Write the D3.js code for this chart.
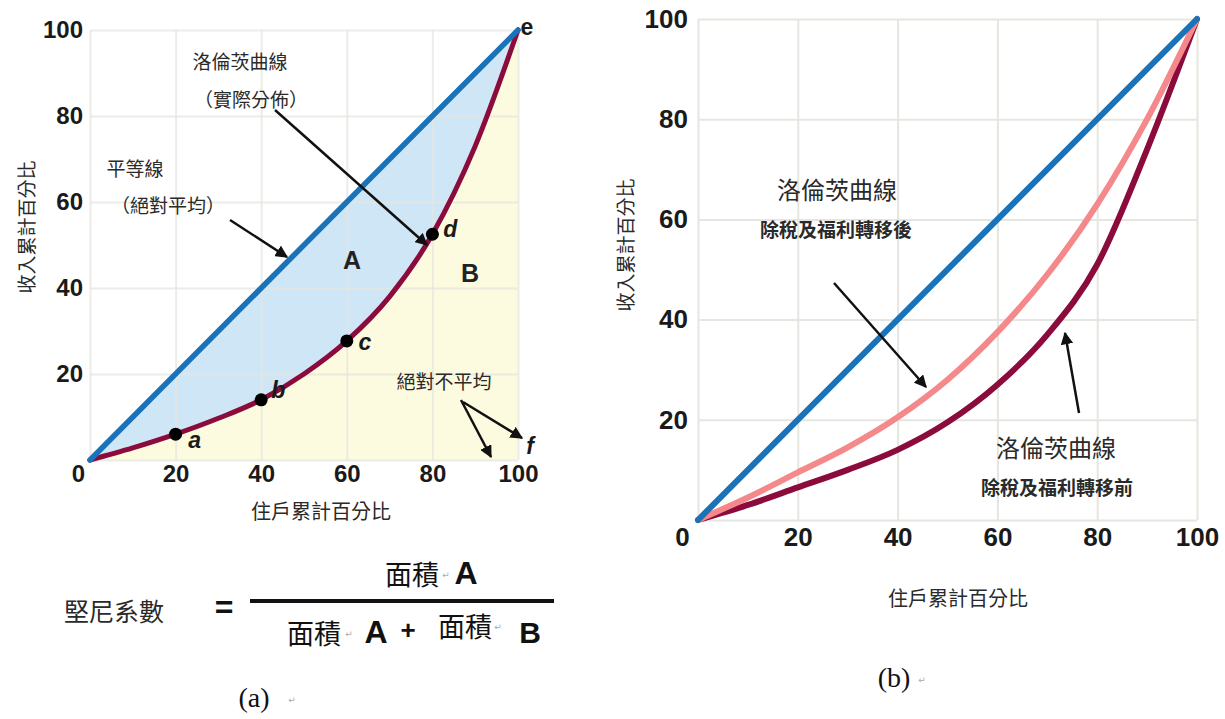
<!DOCTYPE html>
<html>
<head>
<meta charset="utf-8">
<script src="https://cdn.jsdelivr.net/npm/d3@7"></script>
<style>
  body { margin: 0; background: #fff; }
  .tick text { font-family: "Liberation Sans", Arial, sans-serif; font-weight: bold; fill: #1a1a1a; }
  .cjk { font-family: "Noto Sans CJK TC", "Noto Sans CJK SC", sans-serif; fill: #333; }
</style>
</head>
<body>
<div id="chart"></div>
<script>
// ---- data ----
const tickValues = [0, 20, 40, 60, 80, 100];

// panel (a): Lorenz curve + labelled points
const lorenzX = [0, 10, 20, 30, 40, 50, 60, 70, 80, 90, 100];
const lorenzY = [0, 2.8, 6, 9.7, 14, 20, 27.7, 38, 52.5, 73, 100];
const equalityLine = [0, 100];
const pointNames = ["a", "b", "c", "d"];
const pointX = [20, 40, 60, 80];
const pointY = [6, 14, 27.7, 52.5];

// panel (b): before and after tax / transfers
const beforeTaxY = [0, 3, 6.5, 10, 14, 19.5, 27, 37, 51, 74, 100];
const afterTaxY = [0, 4.5, 9.5, 14.5, 20.5, 28, 37.5, 49, 63, 80, 100];

const BLUE = "#1a72b8", RED = "#8a0b3c", PINK = "#f4888a", GRID = "#e6e6e0";
const SANS = "'Liberation Sans', Arial, sans-serif";
const SERIF = "'Liberation Serif', 'DejaVu Serif', serif";

const svg = d3.select("#chart").append("svg")
  .attr("width", 1225).attr("height", 719);

svg.append("defs").append("marker")
  .attr("id", "arrow")
  .attr("viewBox", "0 0 10 10")
  .attr("refX", 9).attr("refY", 5)
  .attr("markerWidth", 5).attr("markerHeight", 5)
  .attr("orient", "auto")
  .append("path").attr("d", "M0,0 L10,5 L0,10 z").attr("fill", "#111");

function arrow(x1, y1, x2, y2) {
  svg.append("line")
    .attr("x1", x1).attr("y1", y1).attr("x2", x2).attr("y2", y2)
    .attr("stroke", "#111").attr("stroke-width", 2.5)
    .attr("marker-end", "url(#arrow)");
}

function label(x, y, txt, size, opts = {}) {
  return svg.append("text")
    .attr("class", opts.family ? null : "cjk")
    .attr("x", x).attr("y", y)
    .attr("text-anchor", "middle")
    .attr("dominant-baseline", "central")
    .attr("font-size", size)
    .attr("font-weight", opts.weight || "normal")
    .attr("font-style", opts.style || "normal")
    .style("font-family", opts.family || null)
    .style("fill", opts.fill || "#2a2a2a")
    .attr("transform", opts.rotate ? `rotate(-90,${x},${y})` : null)
    .text(txt);
}

function grid(g, x, y) {
  const [x0, x1] = x.range(), [y0, y1] = y.range();
  g.append("g").attr("transform", `translate(0,${y0})`)
    .call(d3.axisBottom(x).tickValues(tickValues).tickSize(y1 - y0).tickFormat(""))
    .call(s => s.select(".domain").remove())
    .call(s => s.selectAll("line").attr("stroke", GRID).attr("stroke-width", 2));
  g.append("g").attr("transform", `translate(${x0},0)`)
    .call(d3.axisLeft(y).tickValues(tickValues).tickSize(x0 - x1).tickFormat(""))
    .call(s => s.select(".domain").remove())
    .call(s => s.selectAll("line").attr("stroke", GRID).attr("stroke-width", 2));
}

function tickLabels(g, x, y, size, padX, padY, zeroDx) {
  const [x0] = x.range(), [y0] = y.range();
  g.append("g").attr("transform", `translate(0,${y0})`)
    .call(d3.axisBottom(x).tickValues(tickValues).tickSize(0).tickPadding(padY))
    .call(s => s.select(".domain").remove())
    .call(s => s.selectAll("text").attr("font-size", size)
      .attr("dx", d => d === 0 ? zeroDx : 0));
  g.append("g").attr("transform", `translate(${x0},0)`)
    .call(d3.axisLeft(y).tickValues(tickValues.slice(1)).tickSize(0).tickPadding(padX))
    .call(s => s.select(".domain").remove())
    .call(s => s.selectAll("text").attr("font-size", size));
}

// ================= panel (a) =================
const xL = d3.scaleLinear().domain([0, 100]).range([90, 518]);
const yL = d3.scaleLinear().domain([0, 100]).range([460, 30]);
const gL = svg.append("g");
const lorenz = lorenzX.map((x, i) => ({ x, y: lorenzY[i] }));

gL.append("path").datum(lorenz)
  .attr("fill", "#fdfbdf")
  .attr("d", d3.area().x(d => xL(d.x)).y0(yL(0)).y1(d => yL(d.y)).curve(d3.curveMonotoneX));
gL.append("path").datum(lorenz)
  .attr("fill", "#cfe6f7")
  .attr("d", d3.area().x(d => xL(d.x)).y0(d => yL(d.x)).y1(d => yL(d.y)).curve(d3.curveMonotoneX));

grid(gL, xL, yL);
gL.selectAll(".tick line").attr("stroke-opacity", 0.75);

gL.append("path").datum(lorenz)
  .attr("fill", "none").attr("stroke", RED).attr("stroke-width", 5)
  .attr("stroke-linecap", "round")
  .attr("d", d3.line().x(d => xL(d.x)).y(d => yL(d.y)).curve(d3.curveMonotoneX));
gL.append("path").datum(equalityLine)
  .attr("fill", "none").attr("stroke", BLUE).attr("stroke-width", 5.5)
  .attr("stroke-linecap", "round")
  .attr("d", d3.line().x(d => xL(d)).y(d => yL(d)));

gL.selectAll("circle").data(pointX).join("circle")
  .attr("cx", d => xL(d)).attr("cy", (d, i) => yL(pointY[i]))
  .attr("r", 6.5).attr("fill", "#000");

tickLabels(gL, xL, yL, 24, 7, 5, -12);

const lblOff = [[19, 6], [17, -10], [18, 1], [18, -5]];
pointNames.forEach((n, i) => {
  label(xL(pointX[i]) + lblOff[i][0], yL(pointY[i]) + lblOff[i][1], n, 23,
    { family: SANS, weight: "bold", style: "italic", fill: "#1a1a1a" });
});
label(527, 27, "e", 23, { family: SANS, weight: "bold", fill: "#1a1a1a" });
label(530, 446, "f", 23, { family: SANS, weight: "bold", style: "italic", fill: "#1a1a1a" });

label(352, 260, "A", 25, { family: SANS, weight: "bold", fill: "#222" });
label(470, 273, "B", 25, { family: SANS, weight: "bold", fill: "#222" });

label(240, 60, "洛倫茨曲線", 19);
label(251, 98, "（實際分佈）", 19);
arrow(275, 110, 427, 245);
label(135, 167, "平等線", 19);
label(168, 204, "（絕對平均）", 19);
arrow(230, 220, 287, 257);
label(444, 380, "絕對不平均", 19);
arrow(461, 400, 491, 457);
arrow(463, 402, 522, 438);

label(25, 227, "收入累計百分比", 19, { rotate: true });
label(321, 510, "住戶累計百分比", 20);

// Gini formula
label(114, 610, "堅尼系數", 25);
label(224, 607, "=", 32, { family: SANS, weight: "bold", fill: "#111" });
svg.append("line").attr("x1", 250).attr("x2", 554).attr("y1", 601).attr("y2", 601)
  .attr("stroke", "#111").attr("stroke-width", 4);
const mark = (x, y) => label(x, y, "↵", 9, { family: "'DejaVu Sans'", fill: "#aaa" });
label(412, 573, "面積", 27, { fill: "#111" });
mark(446, 575);
label(466, 573, "A", 32, { family: SANS, weight: "bold", fill: "#111" });
label(314, 632, "面積", 27, { fill: "#111" });
mark(349, 634);
label(376, 632, "A", 32, { family: SANS, weight: "bold", fill: "#111" });
label(408, 630, "+", 26, { family: SANS, weight: "bold", fill: "#111" });
label(465, 625, "面積", 27, { fill: "#111" });
mark(498, 627);
label(530, 632, "B", 30, { family: SANS, weight: "bold", fill: "#111" });

label(254, 697, "(a)", 28, { family: SERIF, fill: "#111" });
mark(292, 700);

// ================= panel (b) =================
const xR = d3.scaleLinear().domain([0, 100]).range([698, 1197]);
const yR = d3.scaleLinear().domain([0, 100]).range([520, 19]);
const gR = svg.append("g");
grid(gR, xR, yR);

const lineR = d3.line().x(d => xR(d.x)).y(d => yR(d.y)).curve(d3.curveMonotoneX);
const series = [
  { vals: beforeTaxY, color: RED },
  { vals: afterTaxY, color: PINK }
];
series.forEach(s => {
  gR.append("path").datum(lorenzX.map((x, i) => ({ x, y: s.vals[i] })))
    .attr("fill", "none").attr("stroke", s.color).attr("stroke-width", 6)
    .attr("stroke-linecap", "round")
    .attr("d", lineR);
});
gR.append("path").datum(equalityLine)
  .attr("fill", "none").attr("stroke", BLUE).attr("stroke-width", 6)
  .attr("stroke-linecap", "round")
  .attr("d", d3.line().x(d => xR(d)).y(d => yR(d)));

tickLabels(gR, xR, yR, 26, 10, 8, -16);

label(837, 188, "洛倫茨曲線", 24);
label(836, 228, "除稅及福利轉移後", 19, { weight: "bold" });
arrow(834, 283, 926, 387);
arrow(1079, 413, 1065, 333);
label(1056, 446, "洛倫茨曲線", 24);
label(1057, 486, "除稅及福利轉移前", 19, { weight: "bold" });

label(624, 245, "收入累計百分比", 19, { rotate: true });
label(958, 597, "住戶累計百分比", 20);

label(894, 677, "(b)", 28, { family: SERIF, fill: "#111" });
mark(922, 680);
</script>
</body>
</html>
